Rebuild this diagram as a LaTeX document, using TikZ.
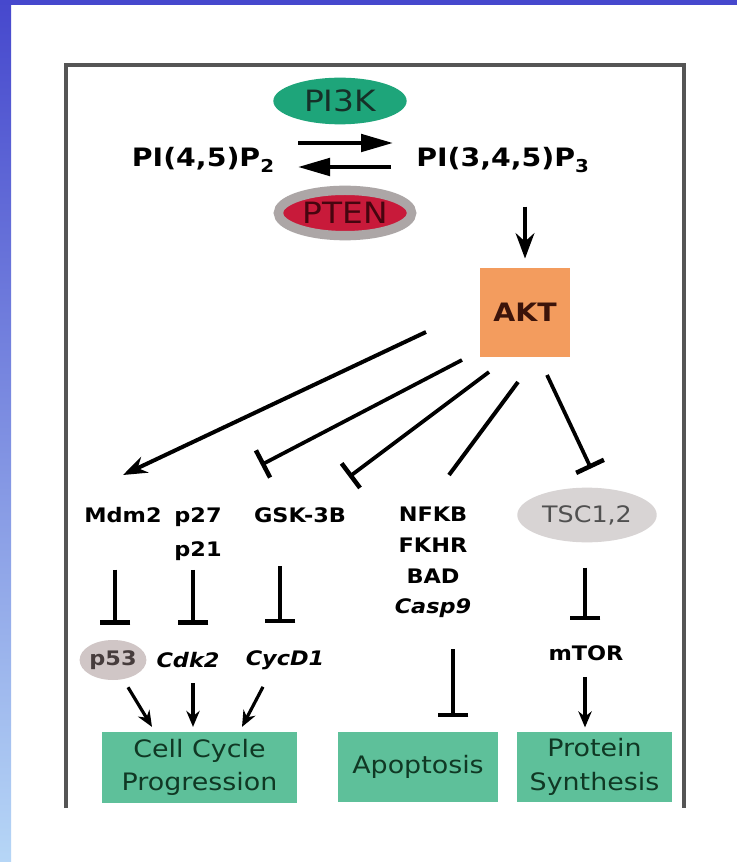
\documentclass[tikz,border=0pt]{standalone}
\usepackage{fontspec}
\setmainfont{DejaVu Sans}[FakeStretch=1.12]
\usetikzlibrary{arrows.meta,shapes.geometric,calc}

\definecolor{slideblue}{RGB}{70,72,205}
\definecolor{slidelight}{RGB}{182,214,246}
\definecolor{framegray}{RGB}{85,85,85}
\definecolor{pikgreen}{RGB}{30,165,122}
\definecolor{ptenred}{RGB}{200,26,58}
\definecolor{halogray}{RGB}{172,166,166}
\definecolor{aktorange}{RGB}{243,156,94}
\definecolor{tscgray}{RGB}{216,212,212}
\definecolor{pgray}{RGB}{208,198,198}
\definecolor{outgreen}{RGB}{94,192,154}
\definecolor{outtext}{RGB}{16,56,36}

\tikzset{
  lbl/.style={font=\bfseries\fontsize{15}{24}\selectfont, inner sep=0pt, align=center},
  bigl/.style={font=\bfseries\fontsize{19}{22}\selectfont, inner sep=0pt},
  act/.style={line width=3pt, -{Stealth[length=19pt,width=14pt]}},
  small act/.style={line width=2.4pt, -{Stealth[length=12pt,width=10pt]}},
  eq/.style={line width=3pt, -{Triangle[length=24pt,width=13pt]}},
  inhibit/.style={line width=2.8pt, -{Bar[width=23pt,line width=3.4pt]}},
  outcome/.style={fill=outgreen, minimum height=53pt, align=center, text=outtext,
    font=\fontsize{18}{25}\selectfont},
}

\begin{document}
\begin{tikzpicture}[x=0.75pt,y=0.75pt,yscale=-1]
\useasboundingbox (0,0) rectangle (737,862);

% slide background and frame
\fill[white] (0,0) rectangle (737,862);
\shade[top color=slideblue, bottom color=slidelight] (0,0) rectangle (11,862);
\fill[slideblue] (0,0) rectangle (737,5);
\draw[framegray, line width=3pt] (66,808) -- (66,65) -- (684,65) -- (684,808);

% lipid conversion
\node[ellipse, fill=pikgreen, minimum width=100pt, minimum height=35pt, text={rgb,255:red,22;green,48;blue,40},
  font=\fontsize{22}{24}\selectfont] (pi3k) at (340,101) {PI3K};
\node[ellipse, fill=ptenred, draw=halogray, line width=7pt, minimum width=100pt, minimum height=34pt,
  text={rgb,255:red,70;green,5;blue,15}, font=\fontsize{22}{24}\selectfont] (pten) at (345,213) {PTEN};
\node[bigl, anchor=east] (pi45) at (275,160) {PI(4,5)P\textsubscript{2}};
\node[bigl, anchor=west] (pi345) at (416,160) {PI(3,4,5)P\textsubscript{3}};
\draw[eq] ($(pi45.east)+(23,-17)$) -- ($(pi345.west)+(-23,-17)$);
\draw[eq] ($(pi345.west)+(-25,7)$) -- ($(pi45.east)+(23,7)$);

% AKT
\node[fill=aktorange, minimum width=67.5pt, minimum height=67pt, text={rgb,255:red,60;green,20;blue,10},
  font=\bfseries\fontsize{19}{22}\selectfont] (akt) at (525,312.5) {AKT};
\draw[act, shorten >=6.75pt] ($(akt.north)+(0,-61)$) -- (akt.north);

% AKT targets
\node[lbl, anchor=north] (mdm2) at (123,507) {Mdm2};
\node[lbl, anchor=north, font=\bfseries\fontsize{15}{26}\selectfont] (p27) at (198,507) {p27\\p21};
\node[lbl, anchor=north] (gsk) at (300,507) {GSK-3B};
\node[lbl, anchor=north, font=\bfseries\fontsize{15}{23}\selectfont] (nfkb) at (433,507) {NFKB\\FKHR\\BAD\\\textit{Casp9}};
\node[ellipse, fill=tscgray, minimum width=96pt, minimum height=41pt, text={rgb,255:red,80;green,80;blue,80},
  font=\fontsize{17}{20}\selectfont] (tsc) at (587,515) {TSC1,2};

\coordinate (akt-mdm2) at (426,332);
\coordinate (akt-p27) at (462,360);
\coordinate (akt-gsk) at (489,372);
\coordinate (akt-nfkb) at (518,382);
\coordinate (akt-tsc) at (547,375);
\draw[act, -{Stealth[length=18pt,width=13pt]}] (akt-mdm2) -- ($(mdm2.north)+(0,-32)$);
\draw[inhibit] (akt-p27) -- ($(p27.north)+(63,-42)$);
\draw[inhibit] (akt-gsk) -- ($(gsk.north)+(49,-30)$);
\draw[line width=3pt] (akt-nfkb) -- ($(nfkb.north)+(16,-32)$);
\draw[inhibit] (akt-tsc) -- ($(tsc.north)+(4,-19)$);

% second row
\node[ellipse, fill=pgray, minimum width=49pt, minimum height=30pt, inner sep=0pt, text={rgb,255:red,70;green,60;blue,60},
  font=\bfseries\fontsize{15}{17}\selectfont] (p53) at (113,660) {p53};
\node[lbl, font=\bfseries\itshape\fontsize{15}{17}\selectfont] (cdk2) at (188,660) {Cdk2};
\node[lbl, font=\bfseries\itshape\fontsize{15}{17}\selectfont] (cycd1) at (285,660) {CycD1};
\node[lbl] (mtor) at (586,653) {mTOR};

\draw[inhibit] ($(p53.north)+(2,-70)$) -- ($(p53.north)+(2,-15)$);
\draw[inhibit] ($(cdk2.north)+(5,-82)$) -- ($(cdk2.north)+(5,-27)$);
\draw[inhibit] ($(cycd1.north)+(-5,-84)$) -- ($(cycd1.north)+(-5,-27)$);
\draw[inhibit] ($(tsc.south)+(-2,25)$) -- ($(mtor.north)+(-1,-25)$);

% outcomes
\node[outcome, minimum width=146pt] (cell) at (199.5,767.5) {Cell Cycle\\Progression};
\node[outcome, minimum width=120pt] (apop) at (418,767) {Apoptosis};
\node[outcome, minimum width=116pt] (prot) at (594.5,767) {Protein\\Synthesis};

\draw[small act] ($(p53.south)+(15,7)$) -- ($(cell.north)+(-47.5,-5)$);
\draw[small act] ($(cdk2.south)+(5,15)$) -- ($(cell.north)+(-6.5,-5)$);
\draw[small act] ($(cycd1.south)+(-22,17)$) -- ($(cell.north)+(42.5,-5)$);
\draw[inhibit, line width=3.2pt] ($(apop.north)+(35,-82)$) -- ($(apop.north)+(35,-14)$);
\draw[small act] ($(mtor.south)+(-1,16)$) -- ($(prot.north)+(-9.5,-4)$);

\end{tikzpicture}
\end{document}
